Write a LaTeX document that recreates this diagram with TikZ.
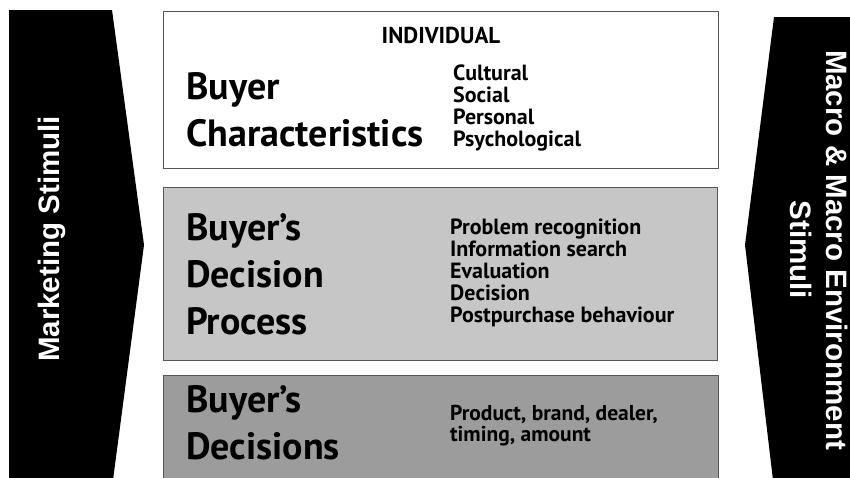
\documentclass[tikz,border=0pt]{standalone}
\usepackage{fontspec}
\setmainfont{PT Sans}
\newfontfamily\labelfont{Liberation Sans}
\begin{document}
\begin{tikzpicture}[x=1pt,y=-1pt,
  panel/.style={draw=edgegray, line width=1.3pt, anchor=north west, inner sep=0pt},
  stimulus/.style={fill=black, draw=none},
  headline/.style={anchor=north west, inner sep=0pt, align=left, font=\bfseries\fontsize{38}{47}\selectfont},
  itemlist/.style={anchor=north west, inner sep=0pt, align=left, font=\bfseries\fontsize{22}{22}\selectfont},
  sidelabel/.style={text=white, inner sep=0pt, align=center, font=\labelfont\bfseries\fontsize{29.5}{36}\selectfont}]
\definecolor{edgegray}{HTML}{555555}
\definecolor{processgray}{HTML}{C6C6C6}
\definecolor{decisiongray}{HTML}{9C9C9C}
\useasboundingbox (0,0) rectangle (850,477);
\clip (0,0) rectangle (850,477);
\fill[white] (0,0) rectangle (850,477);

% stimulus arrows on both sides
\fill[stimulus] (9,10) -- (112,10) -- (144,245) -- (113,480) -- (9,480) -- cycle;
\fill[stimulus] (774,17) -- (852,17) -- (852,480) -- (773,480) -- (745,245) -- cycle;
\node[sidelabel, rotate=90] (mkt) at (52,239) {Marketing Stimuli};
\node[sidelabel, rotate=-90] (env) at (819,250) {Macro \& Macro Environment\\Stimuli};

% three stacked panels
\node[panel, fill=white, minimum width=555pt, minimum height=157pt] (chars) at (163,11) {};
\node[panel, fill=processgray, minimum width=554pt, minimum height=173pt] (proc) at (163,187) {};
\node[panel, fill=decisiongray, minimum width=555pt, minimum height=130pt] (dec) at (163,375) {};

% buyer characteristics
\node[anchor=base, inner sep=0pt, font=\bfseries\fontsize{23}{23}\selectfont] (indiv) at (441,43) {INDIVIDUAL};
\node[headline] (charsT) at (186,72) {Buyer\\Characteristics};
\node[itemlist] (charsL) at (453,65) {Cultural\\Social\\Personal\\Psychological};

% decision process
\node[headline] (procT) at (186,213) {Buyer’s\\Decision\\Process};
\node[itemlist] (procL) at (450,219) {Problem recognition\\Information search\\Evaluation\\Decision\\Postpurchase behaviour};

% decisions
\node[headline] (decT) at (186,385) {Buyer’s\\Decisions};
\node[itemlist, font=\bfseries\fontsize{21.5}{21}\selectfont] (decL) at (450,405) {Product, brand, dealer,\\timing, amount};
\end{tikzpicture}
\end{document}
